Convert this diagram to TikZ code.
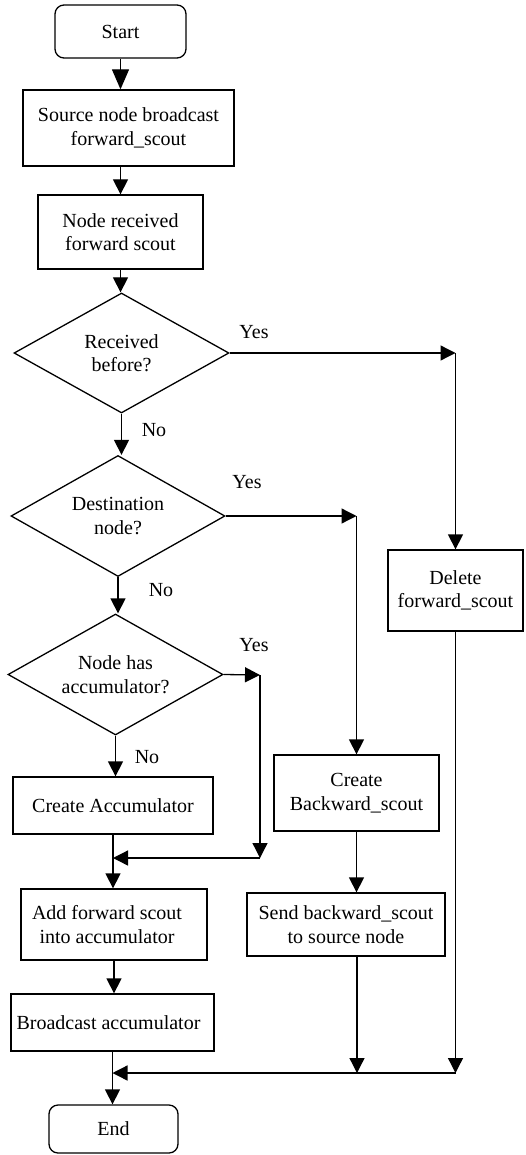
\documentclass[tikz,border=0pt]{standalone}
\usepackage{fontspec}
\setmainfont{Liberation Serif}
\usetikzlibrary{shapes.geometric,arrows.meta}
\begin{document}
\begin{tikzpicture}[x=1pt,y=-1pt, line width=1.3pt,
  font=\fontsize{20}{23.5}\selectfont,
  box/.style={draw, rectangle, align=center, inner sep=0pt},
  term/.style={draw, rectangle, rounded corners=9pt, align=center, inner sep=0pt},
  dec/.style={draw, diamond, align=center, inner sep=0pt, aspect=1.79},
  arr/.style={-{Triangle[length=15pt,width=15pt]}},
  bigarr/.style={-{Triangle[length=20pt,width=17pt]}},
  lbl/.style={inner sep=0pt}]
\useasboundingbox (0,0) rectangle (525,1155);

\node[term, minimum width=131pt, minimum height=53pt] (start) at (120.5,31.5) {Start};
\node[box, minimum width=211pt, minimum height=76pt] (src) at (128.5,128) {Source node broadcast\\forward\_scout};
\node[box, minimum width=165pt, minimum height=74pt] (recv) at (120.5,232) {Node received\\forward scout};
\node[dec, minimum width=215pt, minimum height=120pt] (d1) at (121.5,353) {Received\\before?};
\node[dec, minimum width=214pt, minimum height=121pt] (d2) at (118,516) {Destination\\node?};
\node[dec, minimum width=215pt, minimum height=121pt] (d3) at (115.5,674.5) {Node has\\accumulator?};
\node[box, minimum width=135pt, minimum height=81pt] (del) at (455.5,590.5) {Delete\\forward\_scout};
\node[box, minimum width=200pt, minimum height=57pt] (cacc) at (113,805.5) {Create Accumulator};
\node[box, minimum width=165pt, minimum height=76pt] (cback) at (356.5,793) {Create\\Backward\_scout};
\node[box, minimum width=198pt, minimum height=63pt] (send) at (346,924.5) {Send backward\_scout\\to source node};
\node[box, minimum width=186pt, minimum height=71pt] (add) at (114,924.5) {\hspace*{-14pt}Add forward scout\\\hspace*{-14pt}into accumulator};
\node[box, minimum width=203pt, minimum height=57pt] (bcast) at (112.5,1022.5) {\hspace*{-8pt}Broadcast accumulator};
\node[term, minimum width=129pt, minimum height=48pt] (end) at (113.5,1129) {End};

% labels
\node[lbl] (y1) at (254,332) {Yes};
\node[lbl] (n1) at (154,430) {No};
\node[lbl] (y2) at (247,482) {Yes};
\node[lbl] (n2) at (161,590) {No};
\node[lbl] (y3) at (254,645) {Yes};
\node[lbl] (n3) at (147,757) {No};

% helper coordinates
\coordinate (c1) at (del.north |- d1.east);
\coordinate (c2) at (cback.north |- d2.east);
\coordinate (c3) at (260,675);
\coordinate (c4) at (260,858);
\coordinate (c5) at (cacc.south |- c4);
\coordinate (m1) at (del.south |- 0,1073);
\coordinate (m2) at (357,1073);
\coordinate (m3) at (bcast.south |- m1);

% main spine
\draw[bigarr] (start.south) -- (start.south |- src.north);
\draw[arr] (src.south -| recv.north) -- (recv.north);
\draw[arr] (recv.south) -- (recv.south |- d1.north);
\draw[arr] (d1.south) -- (d1.south |- d2.north);
\draw[arr] (d2.south) -- (d2.south |- d3.north);
\draw[arr] (d3.south) -- (d3.south |- cacc.north);
\draw[arr] (cacc.south) -- (cacc.south |- add.north);
\draw[arr] (add.south) -- (add.south |- bcast.north);
\draw[arr] (bcast.south) -- (bcast.south |- end.north);

% yes branches
\draw[arr] (d1.east) -- (c1);
\draw[arr] (c1) -- (del.north);
\draw[arr] (d2.east) -- (c2);
\draw[arr] (c2) -- (cback.north);
\draw[arr] (d3.east) -- (c3);
\draw[arr] (c3) -- (c4);
\draw[arr] (c4) -- (c5);

% right column
\draw[arr] (cback.south) -- (cback.south |- send.north);
\draw[arr] (send.south -| m2) -- (m2);
\draw[arr] (del.south) -- (m1);
\draw[arr] (m1) -- (m3);
\end{tikzpicture}
\end{document}
